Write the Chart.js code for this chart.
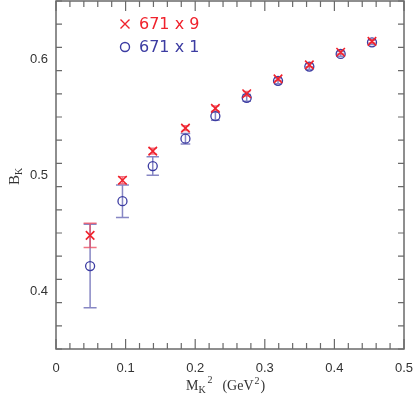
<!DOCTYPE html>
<html><head><meta charset="utf-8">
<script src="https://cdn.jsdelivr.net/npm/chart.js@4/dist/chart.umd.min.js"></script>
<style>html,body{margin:0;padding:0;background:#fff}</style>
</head><body>
<canvas id="c" width="415" height="398"></canvas>
<script>
// ---- data ----
const mK2  = [0.049, 0.0955, 0.139, 0.186, 0.229, 0.274, 0.319, 0.364, 0.409, 0.454];
const bk9  = [0.448, 0.4955, 0.5206, 0.5404, 0.5574, 0.5700, 0.5829, 0.5949, 0.6058, 0.6152];
const err9 = [0.0105, 0.003, 0.0025, 0.002, 0.002, 0.002, 0.0015, 0.0015, 0.0015, 0.0015];
const bk1  = [0.4215, 0.4774, 0.5077, 0.5313, 0.5508, 0.5665, 0.5812, 0.5935, 0.6044, 0.6144];
const err1 = [0.036, 0.014, 0.008, 0.0045, 0.0035, 0.003, 0.0025, 0.0025, 0.002, 0.002];
const labels = ['671 x 9', '671 x 1'];
const xMajor = [0, 0.1, 0.2, 0.3, 0.4, 0.5];
const yMajor = [0.4, 0.5, 0.6];
const xRange = [0, 0.5];
const yRange = [0.35, 0.65];
const minorStep = 0.02;

const RED = '#f0222c', BLUE = '#3c3ca2';
const RED_ERR = 'rgba(236,70,90,0.75)', BLUE_ERR = 'rgba(70,70,165,0.65)';

function pts(xs, ys, es) { return xs.map((x, i) => ({x: x, y: ys[i], e: es[i]})); }
function noPad(s) { s.paddingTop = 0; s.paddingBottom = 0; s.paddingLeft = 0; s.paddingRight = 0; }

const frameAndTicks = {
  id: 'frameAndTicks',
  afterDraw(chart) {
    const {ctx, chartArea: a, scales: {x, y}} = chart;
    ctx.save();
    ctx.strokeStyle = '#6a6a6a';
    ctx.lineWidth = 1.5;
    ctx.strokeRect(a.left, a.top, a.right - a.left, a.bottom - a.top);
    ctx.lineWidth = 1.2;
    ctx.beginPath();
    const nx = Math.round((xRange[1] - xRange[0]) / minorStep);
    for (let i = 0; i <= nx; i++) {
      const v = xRange[0] + i * minorStep;
      const major = xMajor.some(m => Math.abs(m - v) < 1e-9);
      const L = major ? 10 : 6;
      const px = x.getPixelForValue(v);
      ctx.moveTo(px, a.bottom); ctx.lineTo(px, a.bottom - L);
      ctx.moveTo(px, a.top); ctx.lineTo(px, a.top + L);
    }
    const ny = Math.round((yRange[1] - yRange[0]) / minorStep);
    for (let i = 0; i <= ny; i++) {
      const v = yRange[0] + i * minorStep;
      if (v < yRange[0] - 1e-9 || v > yRange[1] + 1e-9) continue;
      const major = yMajor.some(m => Math.abs(m - v) < 1e-9);
      const L = major ? 10 : 6;
      const py = y.getPixelForValue(v);
      ctx.moveTo(a.left, py); ctx.lineTo(a.left + L, py);
      ctx.moveTo(a.right, py); ctx.lineTo(a.right - L, py);
    }
    ctx.stroke();
    ctx.restore();
  }
};

const errorBars = {
  id: 'errorBars',
  beforeDatasetsDraw(chart) {
    const {ctx, scales: {x, y}} = chart;
    ctx.save();
    for (let d = chart.data.datasets.length - 1; d >= 0; d--) {
      const ds = chart.data.datasets[d];
      ctx.strokeStyle = ds.errColor;
      ctx.lineWidth = 1.5;
      ds.data.forEach(p => {
        const px = x.getPixelForValue(p.x);
        const yt = y.getPixelForValue(p.y + p.e);
        const yb = y.getPixelForValue(p.y - p.e);
        const cap = Math.min(6.5, 3 + p.e * 400);
        ctx.beginPath();
        ctx.moveTo(px, yt); ctx.lineTo(px, yb);
        ctx.moveTo(px - cap, yt); ctx.lineTo(px + cap, yt);
        ctx.moveTo(px - cap, yb); ctx.lineTo(px + cap, yb);
        ctx.stroke();
      });
    }
    ctx.restore();
  }
};

const titlesAndLegend = {
  id: 'titlesAndLegend',
  afterDraw(chart) {
    const ctx = chart.ctx;
    ctx.save();
    // legend
    const lx = 125, ly = [24, 47];
    chart.data.datasets.forEach((ds, i) => {
      ctx.strokeStyle = ds.borderColor;
      ctx.lineWidth = 1.4;
      ctx.beginPath();
      if (i === 0) {
        ctx.moveTo(lx - 4.5, ly[i] - 4.5); ctx.lineTo(lx + 4.5, ly[i] + 4.5);
        ctx.moveTo(lx - 4.5, ly[i] + 4.5); ctx.lineTo(lx + 4.5, ly[i] - 4.5);
      } else {
        ctx.arc(lx, ly[i], 4.5, 0, Math.PI * 2);
      }
      ctx.stroke();
      ctx.fillStyle = ds.borderColor;
      ctx.font = '16px "DejaVu Sans"';
      ctx.textBaseline = 'middle';
      ctx.textAlign = 'left';
      ctx.fillText(ds.label, 139, ly[i] + 1);
    });
    // x title
    ctx.fillStyle = '#333';
    ctx.textBaseline = 'alphabetic';
    ctx.textAlign = 'left';
    let X = 186, B = 390;
    const big = '14px "Liberation Serif"', small = '10px "Liberation Serif"';
    ctx.font = big; ctx.fillText('M', X, B); X += ctx.measureText('M').width;
    ctx.font = small; ctx.fillText('K', X, B + 3);
    ctx.fillText('2', X + 9, B - 7); X += 24;
    ctx.font = big; ctx.fillText('(GeV', X, B); X += ctx.measureText('(GeV').width;
    ctx.font = small; ctx.fillText('2', X + 1, B - 6); X += ctx.measureText('2').width + 2;
    ctx.font = big; ctx.fillText(')', X, B);
    // y title
    ctx.translate(19, 177);
    ctx.rotate(-Math.PI / 2);
    ctx.font = '15px "Liberation Serif"';
    const wB = ctx.measureText('B').width;
    ctx.fillText('B', -wB / 2 - 3, 0);
    ctx.font = small;
    ctx.fillText('K', wB / 2 - 3, 3);
    ctx.restore();
  }
};

new Chart(document.getElementById('c'), {
  type: 'scatter',
  data: {
    datasets: [
      { label: labels[0], data: pts(mK2, bk9, err9), pointStyle: 'crossRot', radius: 6,
        borderColor: RED, backgroundColor: RED, borderWidth: 1.6, errColor: RED_ERR },
      { label: labels[1], data: pts(mK2, bk1, err1), pointStyle: 'circle', radius: 4.5,
        borderColor: BLUE, backgroundColor: 'rgba(0,0,0,0)', borderWidth: 1.3, errColor: BLUE_ERR }
    ]
  },
  options: {
    responsive: false,
    animation: false,
    devicePixelRatio: 1,
    layout: { autoPadding: false, padding: { top: 1, right: 11, left: 0, bottom: 0 } },
    plugins: { legend: { display: false }, tooltip: { enabled: false } },
    scales: {
      x: {
        type: 'linear', min: xRange[0], max: xRange[1],
        afterBuildTicks: s => { s.ticks = xMajor.map(v => ({value: v})); },
        afterFit: s => { s.height = 49; noPad(s); },
        grid: { display: false, drawTicks: false },
        border: { display: false },
        ticks: { color: '#333', padding: 12, font: { family: 'Liberation Sans', size: 13 },
                 callback: v => String(Math.round(v * 10) / 10) }
      },
      y: {
        type: 'linear', min: yRange[0], max: yRange[1],
        afterBuildTicks: s => { s.ticks = yMajor.map(v => ({value: v})); },
        afterFit: s => { s.width = 56; noPad(s); },
        grid: { display: false, drawTicks: false },
        border: { display: false },
        ticks: { color: '#333', padding: 8, font: { family: 'Liberation Sans', size: 13 },
                 callback: v => String(Math.round(v * 10) / 10) }
      }
    }
  },
  plugins: [errorBars, frameAndTicks, titlesAndLegend]
});
</script>
</body></html>
